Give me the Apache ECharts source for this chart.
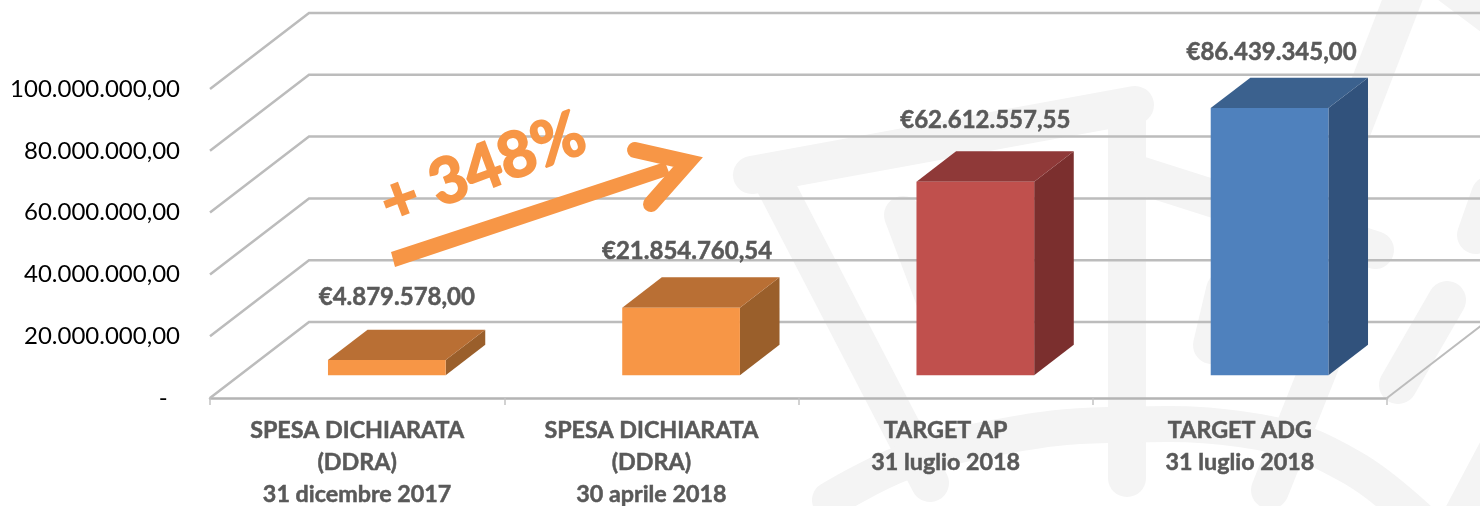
<!DOCTYPE html>
<html><head><meta charset="utf-8">
<style>html,body{margin:0;padding:0;background:#fff}#c{width:1480px;height:506px}</style>
<script src="https://cdn.jsdelivr.net/npm/echarts@6/dist/echarts.min.js"></script>
</head><body><div id="c"></div>
<script>
const categories = ['SPESA DICHIARATA\n(DDRA)\n31 dicembre 2017','SPESA DICHIARATA\n(DDRA)\n30 aprile 2018','TARGET AP\n31 luglio 2018','TARGET ADG\n31 luglio 2018'];
const values = [4879578.00, 21854760.54, 62612557.55, 86439345.00];
const valueLabels = ['€4.879.578,00','€21.854.760,54','€62.612.557,55','€86.439.345,00'];
const gridValues = [0,20000000,40000000,60000000,80000000,100000000];
const yTickLabels = ['-\u00a0\u00a0','20.000.000,00','40.000.000,00','60.000.000,00','80.000.000,00','100.000.000,00'];
const growthLabel = '+ 348%';

const FONT = 'Lato';
const DEPTH = [99,-76];
const faces = [
  {front:'#F79646',top:'#B96F34',side:'#9A5F2B'},
  {front:'#F79646',top:'#B96F34',side:'#9A5F2B'},
  {front:'#C0504D',top:'#8F3938',side:'#7B2F2E'},
  {front:'#4F81BD',top:'#3B618E',side:'#31527C'}
];
const labelNudge = [[10,-32],[6,-26],[10,-31],[2,-25]];
const WM = '#f4f4f4';
const wmStrokes = [
  [[752,175],[1135,105]],
  [[1127,110],[1127,478]],
  [[770,175],[930,483]],
  [[903,215],[950,340]],
  [[1130,172],[1375,250]],
  [[1410,-20],[1271,340]],
  [[1225,290],[1212,345]],
  [[1330,340],[1270,490]],
  [[1447,300],[1398,385]],
  [[1500,445],[1455,530]],
  [[1450,-15],[1490,15]],
  [[1490,195],[1476,235]]
];
const wmArc = [[830,500],[905,462],[999,437],[1108,425],[1259,432],[1353,468],[1430,530]];

const graphics = wmStrokes.map(p=>({type:'polyline',silent:true,z:-5,shape:{points:p},style:{stroke:WM,lineWidth:38,lineCap:'round',fill:null}}));
graphics.push({type:'polyline',silent:true,z:-5,shape:{points:wmArc,smooth:0.4},style:{stroke:WM,lineWidth:36,lineCap:'round',fill:null}});
graphics.push({type:'polygon',silent:true,z:20,shape:{points:[[391,252],[665,162],[670,175],[395,267]]},style:{fill:'#F79646'}});
graphics.push({type:'polyline',silent:true,z:20,shape:{points:[[635,150],[688,162],[651,204]]},style:{stroke:'#F79646',lineWidth:16,lineCap:'round',lineJoin:'miter',miterLimit:10,fill:null}});
graphics.push({type:'text',silent:true,z:20,x:483,y:169,rotation:20.5*Math.PI/180,style:{text:growthLabel,font:'bold 63px '+FONT,fill:'#F79646',stroke:'#F79646',lineWidth:2,textAlign:'center',textVerticalAlign:'middle'}});

const chart = echarts.init(document.getElementById('c'),null,{renderer:'canvas'});
chart.setOption({
  animation:false,
  backgroundColor:'#fff',
  graphic:graphics,
  grid:{left:210,right:93,top:89,bottom:108,containLabel:false,outerBoundsMode:'none'},
  xAxis:{type:'category',data:categories,
    axisLine:{lineStyle:{color:'#b4b4b4',width:2.5}},
    axisTick:{show:true,alignWithLabel:false,length:7,lineStyle:{color:'#c4c4c4',width:1.5}},
    axisLabel:{color:'#595959',fontFamily:FONT,fontWeight:'bold',fontSize:23.3,lineHeight:32,margin:16,interval:0,hideOverlap:false,textBorderColor:'#595959',textBorderWidth:0.5}
  },
  yAxis:{type:'value',min:0,max:100000000,interval:20000000,
    axisLine:{show:false},axisTick:{show:false},splitLine:{show:false},
    axisLabel:{color:'#000',fontFamily:FONT,fontSize:24,margin:30,
      formatter:v=>yTickLabels[gridValues.indexOf(v)]}
  },
  series:[
    {type:'custom',z:1,silent:true,data:gridValues.map(v=>[0,v]),encode:{x:0,y:1},
      renderItem(params,api){
        const y=api.coord([0,api.value(1)])[1], cs=params.coordSys;
        const L=cs.x, R=cs.x+cs.width;
        const kids=[{type:'polyline',shape:{points:[[L,y],[L+DEPTH[0],y+DEPTH[1]],[R+DEPTH[0],y+DEPTH[1]]]},style:{stroke:'#bcbcbc',lineWidth:2.5,fill:null}}];
        if(api.value(1)===0) kids.push({type:'line',shape:{x1:R,y1:y,x2:R+DEPTH[0],y2:y+DEPTH[1]},style:{stroke:'#bcbcbc',lineWidth:2}});
        return {type:'group',children:kids};
      }},
    {type:'custom',z:3,silent:true,data:values.map((v,i)=>[i,v]),encode:{x:0,y:1},
      renderItem(params,api){
        const i=api.value(0), v=api.value(1);
        const c=faces[i];
        const base=api.coord([i,0]), head=api.coord([i,v]);
        const band=api.size([1,0])[0], w=band*0.4;
        const ox=DEPTH[0]*0.3, oy=DEPTH[1]*0.3, dx=DEPTH[0]*0.4, dy=DEPTH[1]*0.4;
        const x0=base[0]-w/2+ox, x1=x0+w, yb=base[1]+oy, yt=head[1]+oy;
        const n=labelNudge[i];
        return {type:'group',children:[
          {type:'polygon',shape:{points:[[x1,yb],[x1+dx,yb+dy],[x1+dx,yt+dy],[x1,yt]]},style:{fill:c.side}},
          {type:'polygon',shape:{points:[[x0,yt],[x0+dx,yt+dy],[x1+dx,yt+dy],[x1,yt]]},style:{fill:c.top}},
          {type:'rect',shape:{x:x0,y:yt,width:w,height:yb-yt},style:{fill:c.front}},
          {type:'text',x:(x0+x1)/2+n[0],y:yt+dy+n[1],style:{text:valueLabels[i],font:'bold 24px '+FONT,fill:'#595959',stroke:'#595959',lineWidth:0.5,textAlign:'center',textVerticalAlign:'middle'}}
        ]};
      }}
  ]
});
</script></body></html>
